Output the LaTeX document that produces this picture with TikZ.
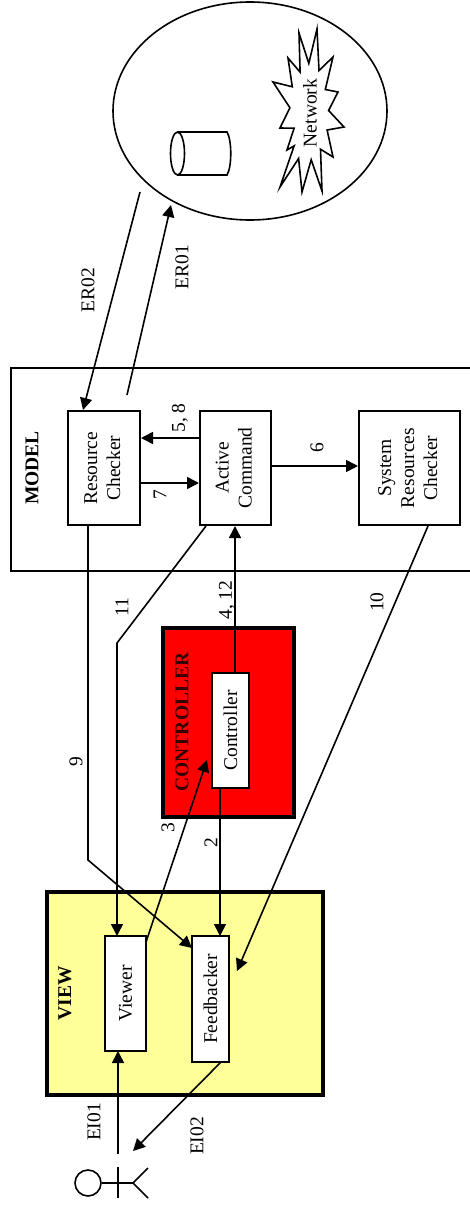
\documentclass[tikz,border=0pt]{standalone}
\usepackage{fontspec}
\setmainfont{Liberation Serif}
\usetikzlibrary{arrows.meta,shapes.geometric}
\definecolor{viewyellow}{RGB}{255,255,153}
\definecolor{ctrlred}{RGB}{255,0,0}
\definecolor{ctrltext}{RGB}{55,0,0}
\newcommand\vtext[1]{\rotatebox{90}{\begin{tabular}{@{}c@{}}#1\end{tabular}}}
\begin{document}
\begin{tikzpicture}[x=1pt,y=-1pt,
  every node/.style={font=\fontsize{19.5}{23}\selectfont},
  lbl/.style={rotate=90, inner sep=0pt},
  ln/.style={line width=1.6pt},
  arr/.style={line width=1.6pt, -{Triangle[length=12pt,width=12pt]}},
  blk/.style={draw, line width=2pt, fill=white, inner sep=0pt},
  grp/.style={draw, line width=3.5pt, inner sep=0pt}]
\useasboundingbox (0,0) rectangle (469,1215);

% environment cloud
\node[draw, ellipse, line width=1.6pt, minimum width=274pt, minimum height=218pt, inner sep=0pt] (env) at (250,111) {};
% database cylinder
\draw[ln] (177.5,153.5) ellipse [x radius=7pt, y radius=21.5pt];
\draw[ln] (177.5,132) -- (227,132) .. controls (232,140) and (232,167) .. (227,175) -- (177.5,175);
% network starburst
\draw[ln, fill=white] (299,33) -- (308.8,63.4) -- (317,29) -- (319,70.6) -- (333,57) -- (325.3,89.5)
  -- (338,92) -- (328.6,110.5) -- (344,127) -- (327.1,130) -- (333,157) -- (320.5,149.2)
  -- (322,191) -- (311.2,159.7) -- (302,192) -- (298.6,158.5) -- (280,187) -- (294.1,145.9)
  -- (287,150) -- (294.1,128.2) -- (280,128) -- (289.9,107.8) -- (273,82) -- (292.3,86.8)
  -- (288,58) -- (300.1,72.1) -- cycle;
\node[lbl] (net) at (310,113) {Network};

% MODEL group
\node[draw, line width=2pt, minimum width=470pt, minimum height=203pt, inner sep=0pt, anchor=north west] (model) at (10,367) {};
\node[lbl, font=\fontsize{19.5}{23}\selectfont\bfseries] (modellbl) at (32,468) {MODEL};
\node[blk, minimum width=72pt, minimum height=114pt] (rc) at (104,468) {\vtext{Resource\\Checker}};
\node[blk, minimum width=71pt, minimum height=114pt] (ac) at (235.5,468) {\vtext{Active\\Command}};
\node[blk, minimum width=101pt, minimum height=114pt] (src) at (409.5,468) {\vtext{System\\Resources\\Checker}};

% CONTROLLER group
\node[grp, fill=ctrlred, minimum width=131pt, minimum height=189pt] (ctrlgrp) at (228.5,722.5) {};
\node[lbl, font=\fontsize{19.5}{23}\selectfont\bfseries, text=ctrltext] (ctrllbl) at (182,722) {CONTROLLER};

% VIEW group
\node[grp, fill=viewyellow, minimum width=276pt, minimum height=203pt] (viewgrp) at (185,993.5) {};
\node[lbl, font=\fontsize{19.5}{23}\selectfont\bfseries] (viewlbl) at (65,993) {VIEW};

% free ends
\coordinate (er2s) at (140,192);
\coordinate (er1s) at (127,395);
\coordinate (er1e) at (171,205);
\coordinate (bend9) at (88,860);
\coordinate (bend11) at (117,643);
\coordinate (c3e) at (207,760);
\coordinate (c10e) at (237,971);
\coordinate (actr) at (118,1154);
\coordinate (c2e) at (133,1151);

% connectors
\draw[arr] (er2s) -- ([xshift=16pt]rc.north west);
\draw[arr] (er1s) -- (er1e);
\draw[arr] (ac.west |- 0,438) -- (rc.east |- 0,438);
\draw[arr] (rc.east |- 0,483) -- (ac.west |- 0,483);
\draw[arr] (ac.east |- 0,466) -- (src.west |- 0,466);
\draw[arr] (88,0 |- rc.south) -- (bend9) -- (192,948);
\draw[arr] (206,0 |- ac.south) -- (bend11) -- (117,936);
\draw[arr] (235,673) -- (235,0 |- ac.south);
\draw[arr] (220,788) -- (220,936);
\draw[arr] (146,942) -- (c3e);
\draw[arr] (428,0 |- src.south) -- (c10e);
\draw[arr] (actr) -- (118,1051);
\draw[arr] (221,1062) -- (c2e);

% inner boxes
\node[blk, minimum width=37pt, minimum height=115pt] (ctrl) at (230.5,730.5) {\rotatebox{90}{Controller}};
\node[blk, minimum width=41pt, minimum height=115pt] (viewer) at (125.5,993.5) {\rotatebox{90}{Viewer}};
\node[blk, minimum width=37pt, minimum height=126pt] (fb) at (210.5,999) {\rotatebox{90}{Feedbacker}};

% labels
\node[lbl] (ler2) at (88,290) {ER02};
\node[lbl] (ler1) at (182,267) {ER01};
\node[lbl] (l58) at (180,418) {5, 8};
\node[lbl] (l7) at (160,495) {7};
\node[lbl] (l6) at (317,448) {6};
\node[lbl] (l11) at (122,607) {11};
\node[lbl] (l412) at (227,600) {4, 12};
\node[lbl] (l10) at (377,602) {10};
\node[lbl] (l9) at (76,762) {9};
\node[lbl] (l3) at (168,828) {3};
\node[lbl] (l2) at (211,843) {2};
\node[lbl] (lei1) at (94,1122) {EI01};
\node[lbl] (lei2) at (197,1136) {EI02};

% actor
\node[draw, circle, line width=1.6pt, minimum size=26pt, inner sep=0pt] (head) at (88,1183) {};
\coordinate (hip) at (133,1183);
\coordinate (arm1) at (118,1167);
\coordinate (arm2) at (118,1198);
\coordinate (leg1) at (148,1168);
\coordinate (leg2) at (148,1198);
\draw[ln] (head.east) -- (hip);
\draw[ln] (arm1) -- (arm2);
\draw[ln] (leg1) -- (hip) -- (leg2);
\end{tikzpicture}
\end{document}
